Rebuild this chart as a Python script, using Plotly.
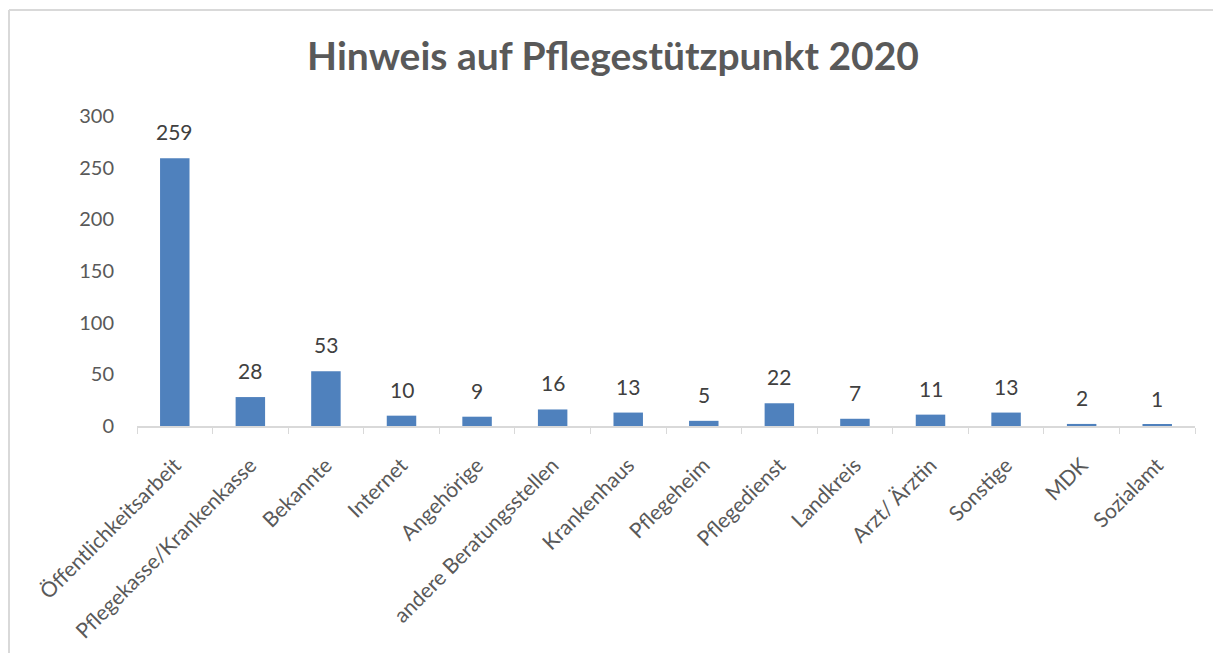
import plotly.graph_objects as go

categories = ["Öffentlichkeitsarbeit", "Pflegekasse/Krankenkasse", "Bekannte", "Internet",
              "Angehörige", "andere Beratungsstellen", "Krankenhaus", "Pflegeheim",
              "Pflegedienst", "Landkreis", "Arzt/ Ärztin", "Sonstige", "MDK", "Sozialamt"]
values = [259, 28, 53, 10, 9, 16, 13, 5, 22, 7, 11, 13, 2, 1]
y_ticks = [0, 50, 100, 150, 200, 250, 300]

# page has an 8px body margin, so figure coords = page coords - 8
OFF = 8
W, H = 1221, 653
L, R, T, B = 137 - OFF, 26 + OFF, 116 - OFF, 227 + OFF
pw, ph = W - L - R, H - T - B


def px_x(p):
    return (p - OFF - L) / pw


def px_y(p):
    return (H - B - (p - OFF)) / ph


fig = go.Figure(go.Bar(
    x=categories, y=values,
    marker=dict(color="#4F81BD", line=dict(width=0)),
    width=0.39,
))

for c, v in zip(categories, values):
    fig.add_annotation(x=c, y=v, text=str(v), showarrow=False, yanchor="bottom",
                       yshift=12, font=dict(family="Lato", size=21, color="#404040"))

fig.update_layout(
    width=W, height=H,
    margin=dict(l=L, r=R, t=T, b=B),
    paper_bgcolor="white", plot_bgcolor="white",
    title=dict(text="<b>Hinweis auf Pflegestützpunkt 2020</b>", x=(613 - OFF) / W, xanchor="center",
               y=1 - (56 - OFF) / H, yanchor="middle",
               font=dict(family="Lato", size=39, color="#595959")),
    showlegend=False,
    xaxis=dict(tickangle=-45, tickson="boundaries", ticks="outside", ticklen=6,
               tickcolor="#D9D9D9", showline=True, linecolor="#D9D9D9", linewidth=1.5,
               showgrid=False, ticklabelstandoff=17,
               tickfont=dict(family="Lato", size=21, color="#595959")),
    yaxis=dict(range=[0, 300], tickvals=y_ticks, showgrid=False, zeroline=False,
               showline=False, ticks="", ticklabelstandoff=22,
               tickfont=dict(family="Lato", size=20, color="#595959")),
    shapes=[
        dict(type="line", xref="paper", yref="paper", x0=px_x(9), x1=px_x(9),
             y0=px_y(10), y1=px_y(700), line=dict(color="#D9D9D9", width=2)),
        dict(type="line", xref="paper", yref="paper", x0=px_x(9), x1=px_x(1240),
             y0=px_y(10), y1=px_y(10), line=dict(color="#D9D9D9", width=2)),
    ],
)

fig.write_html("out.html")
